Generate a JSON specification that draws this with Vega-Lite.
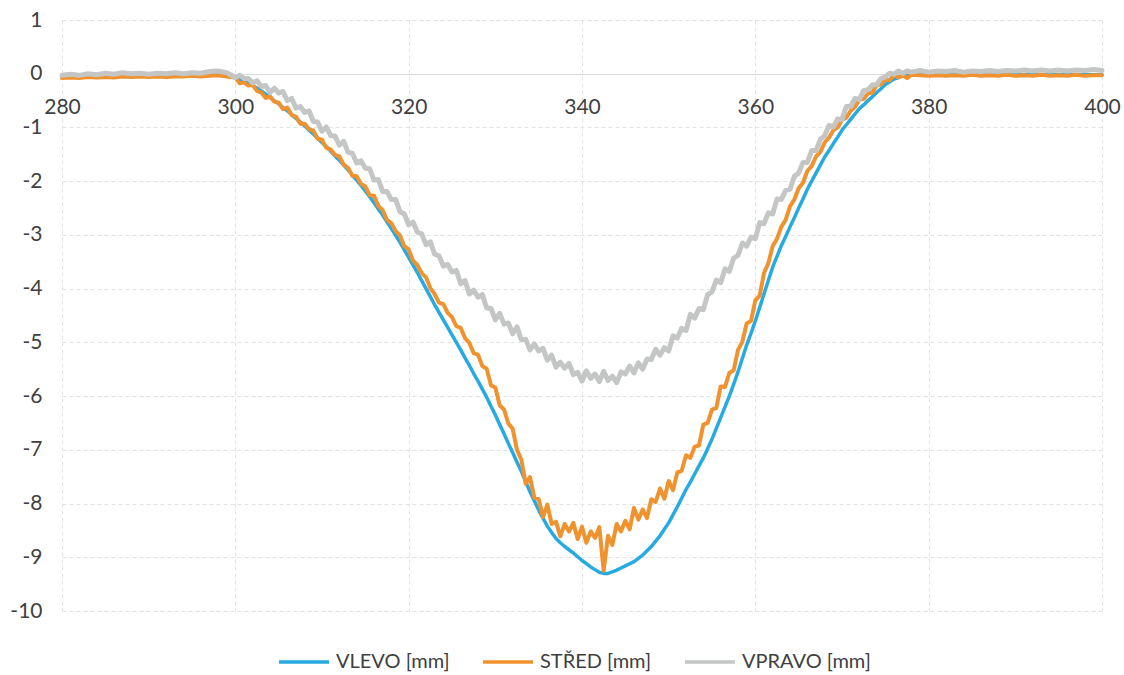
{
  "$schema": "https://vega.github.io/schema/vega-lite/v6.json",
  "width": 1040,
  "height": 591,
  "autosize": {"type": "none"},
  "padding": {"left": 62, "top": 20, "right": 22, "bottom": 64},
  "background": "white",
  "config": {"view": {"stroke": null}, "font": "Lato"},
  "data": {"values": [
    {"x":280,"L":-0.05,"S":-0.08,"R":-0.03},{"x":281,"L":-0.05,"S":-0.07,"R":-0.01},{"x":282,"L":-0.04,"S":-0.08,"R":-0.03},{"x":283,"L":-0.05,"S":-0.06,"R":0.0},{"x":284,"L":-0.04,"S":-0.07,"R":-0.02},{"x":285,"L":-0.04,"S":-0.06,"R":0.01},{"x":286,"L":-0.04,"S":-0.07,"R":-0.01},{"x":287,"L":-0.04,"S":-0.05,"R":0.02},{"x":288,"L":-0.03,"S":-0.06,"R":0.0},{"x":289,"L":-0.04,"S":-0.05,"R":0.01},
    {"x":290,"L":-0.03,"S":-0.06,"R":-0.01},{"x":291,"L":-0.03,"S":-0.05,"R":0.01},{"x":292,"L":-0.03,"S":-0.06,"R":0.0},{"x":293,"L":-0.03,"S":-0.05,"R":0.02},{"x":294,"L":-0.03,"S":-0.05,"R":0.0},{"x":295,"L":-0.02,"S":-0.04,"R":0.02},{"x":296,"L":-0.02,"S":-0.05,"R":0.01},{"x":297,"L":-0.02,"S":-0.04,"R":0.04},{"x":298,"L":-0.01,"S":-0.03,"R":0.05},{"x":299,"L":-0.02,"S":-0.05,"R":0.02},
    {"x":300,"L":-0.08,"S":-0.07,"R":-0.07},{"x":300.5,"L":-0.11,"S":-0.18,"R":-0.03},{"x":301,"L":-0.14,"S":-0.16,"R":-0.09},{"x":301.5,"L":-0.18,"S":-0.22,"R":-0.09},{"x":302,"L":-0.22,"S":-0.21,"R":-0.17},{"x":302.5,"L":-0.27,"S":-0.32,"R":-0.13},{"x":303,"L":-0.32,"S":-0.35,"R":-0.24},{"x":303.5,"L":-0.38,"S":-0.45,"R":-0.22},{"x":304,"L":-0.44,"S":-0.42,"R":-0.35},{"x":304.5,"L":-0.5,"S":-0.52,"R":-0.27},
    {"x":305,"L":-0.56,"S":-0.54,"R":-0.36},{"x":305.5,"L":-0.63,"S":-0.66,"R":-0.33},{"x":306,"L":-0.69,"S":-0.63,"R":-0.5},{"x":306.5,"L":-0.76,"S":-0.77,"R":-0.46},{"x":307,"L":-0.83,"S":-0.8,"R":-0.64},{"x":307.5,"L":-0.9,"S":-0.93,"R":-0.61},{"x":308,"L":-0.97,"S":-0.93,"R":-0.72},{"x":308.5,"L":-1.05,"S":-1.03,"R":-0.69},{"x":309,"L":-1.12,"S":-1.06,"R":-0.89},{"x":309.5,"L":-1.2,"S":-1.21,"R":-0.9},
    {"x":310,"L":-1.28,"S":-1.23,"R":-1.07},{"x":310.5,"L":-1.36,"S":-1.38,"R":-0.99},{"x":311,"L":-1.44,"S":-1.41,"R":-1.15},{"x":311.5,"L":-1.53,"S":-1.51,"R":-1.16},{"x":312,"L":-1.61,"S":-1.54,"R":-1.33},{"x":312.5,"L":-1.7,"S":-1.69,"R":-1.26},{"x":313,"L":-1.79,"S":-1.75,"R":-1.46},{"x":313.5,"L":-1.89,"S":-1.9,"R":-1.48},{"x":314,"L":-1.98,"S":-1.91,"R":-1.66},{"x":314.5,"L":-2.08,"S":-2.05,"R":-1.62},
    {"x":315,"L":-2.18,"S":-2.1,"R":-1.76},{"x":315.5,"L":-2.29,"S":-2.26,"R":-1.77},{"x":316,"L":-2.4,"S":-2.27,"R":-1.98},{"x":316.5,"L":-2.52,"S":-2.46,"R":-1.97},{"x":317,"L":-2.63,"S":-2.54,"R":-2.19},{"x":317.5,"L":-2.76,"S":-2.72,"R":-2.19},{"x":318,"L":-2.88,"S":-2.78,"R":-2.34},{"x":318.5,"L":-3.01,"S":-2.93,"R":-2.34},{"x":319,"L":-3.14,"S":-3.01,"R":-2.57},{"x":319.5,"L":-3.28,"S":-3.21,"R":-2.61},
    {"x":320,"L":-3.42,"S":-3.27,"R":-2.81},{"x":320.5,"L":-3.56,"S":-3.48,"R":-2.76},{"x":321,"L":-3.7,"S":-3.56,"R":-2.95},{"x":321.5,"L":-3.85,"S":-3.71,"R":-2.98},{"x":322,"L":-4.0,"S":-3.79,"R":-3.18},{"x":322.5,"L":-4.15,"S":-3.99,"R":-3.13},{"x":323,"L":-4.3,"S":-4.1,"R":-3.36},{"x":323.5,"L":-4.44,"S":-4.26,"R":-3.39},{"x":324,"L":-4.58,"S":-4.29,"R":-3.58},{"x":324.5,"L":-4.72,"S":-4.45,"R":-3.55},
    {"x":325,"L":-4.86,"S":-4.53,"R":-3.69},{"x":325.5,"L":-5.0,"S":-4.7,"R":-3.66},{"x":326,"L":-5.14,"S":-4.73,"R":-3.91},{"x":326.5,"L":-5.29,"S":-4.92,"R":-3.85},{"x":327,"L":-5.43,"S":-5.01,"R":-4.1},{"x":327.5,"L":-5.58,"S":-5.2,"R":-4.03},{"x":328,"L":-5.72,"S":-5.23,"R":-4.16},{"x":328.5,"L":-5.87,"S":-5.44,"R":-4.11},{"x":329,"L":-6.02,"S":-5.49,"R":-4.36},{"x":329.5,"L":-6.19,"S":-5.8,"R":-4.37},
    {"x":330,"L":-6.35,"S":-5.84,"R":-4.58},{"x":330.5,"L":-6.53,"S":-6.17,"R":-4.46},{"x":331,"L":-6.7,"S":-6.25,"R":-4.66},{"x":331.5,"L":-6.88,"S":-6.51,"R":-4.64},{"x":332,"L":-7.05,"S":-6.61,"R":-4.84},{"x":332.5,"L":-7.23,"S":-7.0,"R":-4.71},{"x":333,"L":-7.4,"S":-7.18,"R":-4.95},{"x":333.5,"L":-7.59,"S":-7.63,"R":-4.94},{"x":334,"L":-7.78,"S":-7.51,"R":-5.14},{"x":334.5,"L":-7.95,"S":-7.89,"R":-5.03},
    {"x":335,"L":-8.12,"S":-7.92,"R":-5.16},{"x":335.5,"L":-8.27,"S":-8.25,"R":-5.11},{"x":336,"L":-8.42,"S":-8.02,"R":-5.33},{"x":336.5,"L":-8.54,"S":-8.38,"R":-5.24},{"x":337,"L":-8.65,"S":-8.34,"R":-5.46},{"x":337.5,"L":-8.73,"S":-8.61,"R":-5.37},{"x":338,"L":-8.8,"S":-8.38,"R":-5.48},{"x":338.5,"L":-8.86,"S":-8.52,"R":-5.39},{"x":339,"L":-8.92,"S":-8.36,"R":-5.6},{"x":339.5,"L":-8.99,"S":-8.66,"R":-5.56},
    {"x":340,"L":-9.06,"S":-8.43,"R":-5.72},{"x":340.5,"L":-9.12,"S":-8.73,"R":-5.53},{"x":341,"L":-9.18,"S":-8.52,"R":-5.67},{"x":341.5,"L":-9.23,"S":-8.64,"R":-5.59},{"x":342,"L":-9.28,"S":-8.44,"R":-5.73},{"x":342.5,"L":-9.3,"S":-9.25,"R":-5.54},{"x":343,"L":-9.3,"S":-8.6,"R":-5.71},{"x":343.5,"L":-9.27,"S":-8.77,"R":-5.63},{"x":344,"L":-9.24,"S":-8.38,"R":-5.75},{"x":344.5,"L":-9.2,"S":-8.52,"R":-5.55},
    {"x":345,"L":-9.16,"S":-8.32,"R":-5.59},{"x":345.5,"L":-9.12,"S":-8.48,"R":-5.44},{"x":346,"L":-9.08,"S":-8.08,"R":-5.57},{"x":346.5,"L":-9.02,"S":-8.3,"R":-5.38},{"x":347,"L":-8.96,"S":-8.11,"R":-5.5},{"x":347.5,"L":-8.88,"S":-8.27,"R":-5.31},{"x":348,"L":-8.8,"S":-7.92,"R":-5.32},{"x":348.5,"L":-8.7,"S":-7.97,"R":-5.13},{"x":349,"L":-8.6,"S":-7.72,"R":-5.24},{"x":349.5,"L":-8.48,"S":-7.91,"R":-5.1},
    {"x":350,"L":-8.36,"S":-7.58,"R":-5.16},{"x":350.5,"L":-8.21,"S":-7.75,"R":-4.88},{"x":351,"L":-8.06,"S":-7.42,"R":-4.92},{"x":351.5,"L":-7.9,"S":-7.39,"R":-4.74},{"x":352,"L":-7.74,"S":-7.1,"R":-4.78},{"x":352.5,"L":-7.6,"S":-7.15,"R":-4.48},{"x":353,"L":-7.45,"S":-6.94,"R":-4.55},{"x":353.5,"L":-7.3,"S":-6.92,"R":-4.37},{"x":354,"L":-7.15,"S":-6.53,"R":-4.39},{"x":354.5,"L":-6.98,"S":-6.5,"R":-4.11},
    {"x":355,"L":-6.8,"S":-6.25,"R":-4.06},{"x":355.5,"L":-6.6,"S":-6.22,"R":-3.84},{"x":356,"L":-6.4,"S":-5.82,"R":-3.89},{"x":356.5,"L":-6.2,"S":-5.83,"R":-3.63},{"x":357,"L":-6.0,"S":-5.57,"R":-3.68},{"x":357.5,"L":-5.78,"S":-5.52,"R":-3.43},{"x":358,"L":-5.55,"S":-5.14,"R":-3.38},{"x":358.5,"L":-5.3,"S":-4.99,"R":-3.15},{"x":359,"L":-5.05,"S":-4.65,"R":-3.21},{"x":359.5,"L":-4.83,"S":-4.6,"R":-3.04},
    {"x":360,"L":-4.6,"S":-4.22,"R":-3.07},{"x":360.5,"L":-4.35,"S":-4.13,"R":-2.77},{"x":361,"L":-4.1,"S":-3.71,"R":-2.79},{"x":361.5,"L":-3.85,"S":-3.53,"R":-2.59},{"x":362,"L":-3.6,"S":-3.21,"R":-2.61},{"x":362.5,"L":-3.4,"S":-3.07,"R":-2.33},{"x":363,"L":-3.2,"S":-2.85,"R":-2.34},{"x":363.5,"L":-3.03,"S":-2.72,"R":-2.17},{"x":364,"L":-2.85,"S":-2.47,"R":-2.15},{"x":364.5,"L":-2.68,"S":-2.34,"R":-1.91},
    {"x":365,"L":-2.5,"S":-2.13,"R":-1.85},{"x":365.5,"L":-2.33,"S":-2.03,"R":-1.65},{"x":366,"L":-2.15,"S":-1.81,"R":-1.65},{"x":366.5,"L":-2.0,"S":-1.72,"R":-1.43},{"x":367,"L":-1.85,"S":-1.54,"R":-1.43},{"x":367.5,"L":-1.7,"S":-1.46,"R":-1.22},{"x":368,"L":-1.55,"S":-1.28,"R":-1.16},{"x":368.5,"L":-1.43,"S":-1.19,"R":-0.96},{"x":369,"L":-1.3,"S":-1.05,"R":-0.99},{"x":369.5,"L":-1.18,"S":-1.0,"R":-0.84},
    {"x":370,"L":-1.05,"S":-0.86,"R":-0.85},{"x":370.5,"L":-0.95,"S":-0.82,"R":-0.61},{"x":371,"L":-0.85,"S":-0.69,"R":-0.61},{"x":371.5,"L":-0.75,"S":-0.62,"R":-0.46},{"x":372,"L":-0.65,"S":-0.48,"R":-0.48},{"x":372.5,"L":-0.58,"S":-0.47,"R":-0.31},{"x":373,"L":-0.5,"S":-0.37,"R":-0.3},{"x":373.5,"L":-0.43,"S":-0.35,"R":-0.21},{"x":374,"L":-0.35,"S":-0.21,"R":-0.2},{"x":374.5,"L":-0.28,"S":-0.2,"R":-0.09},
    {"x":375,"L":-0.2,"S":-0.11,"R":-0.06},{"x":375.5,"L":-0.15,"S":-0.12,"R":0.01},{"x":376,"L":-0.1,"S":-0.02,"R":-0.01},{"x":376.5,"L":-0.07,"S":-0.07,"R":0.05},{"x":377,"L":-0.04,"S":-0.03,"R":0.01},{"x":377.5,"L":-0.03,"S":-0.08,"R":0.05},{"x":378,"L":-0.02,"S":-0.02,"R":0.03},
    {"x":379,"L":-0.02,"S":-0.03,"R":0.06},{"x":380,"L":-0.02,"S":-0.04,"R":0.03},{"x":381,"L":-0.02,"S":-0.03,"R":0.05},{"x":382,"L":-0.02,"S":-0.04,"R":0.04},{"x":383,"L":-0.02,"S":-0.03,"R":0.06},{"x":384,"L":-0.02,"S":-0.04,"R":0.03},{"x":385,"L":-0.02,"S":-0.02,"R":0.05},{"x":386,"L":-0.02,"S":-0.04,"R":0.04},{"x":387,"L":-0.03,"S":-0.03,"R":0.06},{"x":388,"L":-0.02,"S":-0.04,"R":0.04},{"x":389,"L":-0.02,"S":-0.02,"R":0.06},
    {"x":390,"L":-0.02,"S":-0.04,"R":0.05},{"x":391,"L":-0.02,"S":-0.03,"R":0.07},{"x":392,"L":-0.02,"S":-0.04,"R":0.05},{"x":393,"L":-0.02,"S":-0.02,"R":0.07},{"x":394,"L":-0.02,"S":-0.04,"R":0.05},{"x":395,"L":-0.02,"S":-0.03,"R":0.07},{"x":396,"L":-0.02,"S":-0.04,"R":0.05},{"x":397,"L":-0.02,"S":-0.02,"R":0.07},{"x":398,"L":-0.02,"S":-0.04,"R":0.06},{"x":399,"L":-0.02,"S":-0.03,"R":0.08},{"x":400,"L":-0.02,"S":-0.03,"R":0.06}
  ]},
  "transform": [{"fold": ["L", "S", "R"], "as": ["k", "v"]}],
  "encoding": {
    "x": {
      "field": "x", "type": "quantitative",
      "scale": {"domain": [280, 400], "nice": false, "zero": false},
      "axis": {
        "values": [280, 300, 320, 340, 360, 380, 400],
        "offset": -537, "title": null,
        "domainColor": "#d9d9d9", "domainWidth": 1,
        "ticks": false, "labelPadding": 22, "labelFlush": false,
        "labelFont": "Lato", "labelFontSize": 21, "labelColor": "#404040",
        "grid": true, "gridColor": "#e2e2e2", "gridDash": [4, 3]
      }
    },
    "y": {
      "field": "v", "type": "quantitative",
      "scale": {"domain": [-10, 1], "nice": false, "zero": false},
      "axis": {
        "values": [1, 0, -1, -2, -3, -4, -5, -6, -7, -8, -9, -10],
        "labelExpr": "'' + datum.value",
        "title": null, "domain": false, "ticks": false, "labelPadding": 20,
        "labelFont": "Lato", "labelFontSize": 21, "labelColor": "#404040",
        "grid": true, "gridColor": "#e2e2e2", "gridDash": [4, 3]
      }
    },
    "color": {
      "field": "k", "type": "nominal",
      "scale": {"domain": ["L", "S", "R"], "range": ["#27aae1", "#f0922e", "#c4c6c6"]},
      "legend": {
        "orient": "none", "legendX": 215, "legendY": 615,
        "direction": "horizontal", "title": null,
        "symbolType": "stroke", "symbolSize": 2500, "symbolStrokeWidth": 3.5,
        "labelFont": "Lato", "labelFontSize": 20, "labelColor": "#404040",
        "labelOffset": 5, "columnPadding": 26, "labelLimit": 300,
        "labelExpr": "datum.label == 'L' ? 'VLEVO [mm]' : datum.label == 'S' ? 'STŘED [mm]' : 'VPRAVO [mm]'"
      }
    }
  },
  "layer": [
    {
      "transform": [{"filter": "datum.k == 'L'"}],
      "mark": {"type": "line", "strokeWidth": 3.5, "strokeJoin": "round", "strokeCap": "round"}
    },
    {
      "transform": [{"filter": "datum.k == 'S'"}],
      "mark": {"type": "line", "strokeWidth": 4, "strokeJoin": "round", "strokeCap": "round"}
    },
    {
      "transform": [{"filter": "datum.k == 'R'"}],
      "mark": {"type": "line", "strokeWidth": 5, "strokeJoin": "round", "strokeCap": "round"}
    }
  ]
}
